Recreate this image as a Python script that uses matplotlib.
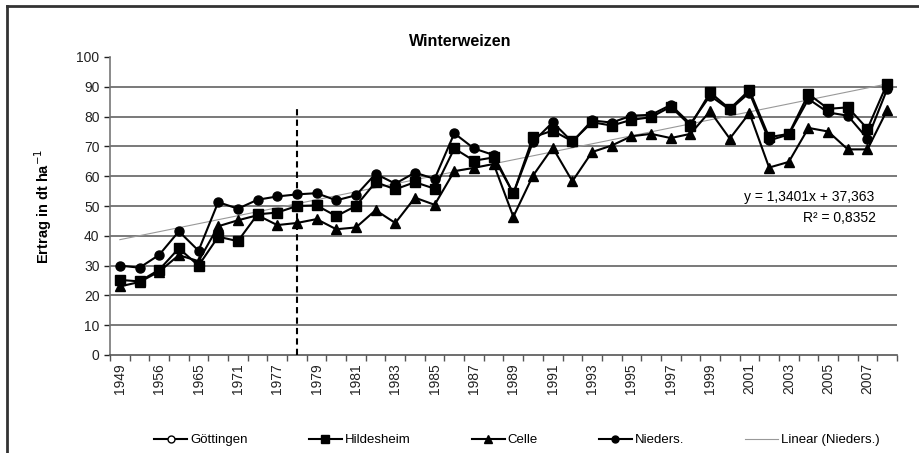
import numpy as np
import matplotlib
matplotlib.use("Agg")
import matplotlib.pyplot as plt
from matplotlib.lines import Line2D

plt.rcParams['font.family'] = ['Liberation Sans', 'DejaVu Sans']

years = ["1949", "1952", "1956", "1960", "1965", "1968", "1971", "1974", "1977", "1978"] + \
        [str(y) for y in range(1979, 2009)]
shown_labels = ["1949", "1956", "1965", "1971", "1977", "1979", "1981", "1983", "1985", "1987",
                "1989", "1991", "1993", "1995", "1997", "1999", "2001", "2003", "2005", "2007"]

goettingen = [np.nan] * 40
hildesheim = [25.2, 24.7, 28.6, 35.8, 30.0, 39.7, 38.2, 47.2, 47.8, 50.0,
              50.2, 46.6, 50.0, 58.0, 55.6, 58.0, 55.8, 69.3, 65.2, 66.3,
              54.2, 73.1, 75.3, 71.7, 78.1, 77.0, 78.9, 79.8, 83.3, 77.0,
              88.1, 82.6, 88.9, 73.1, 74.2, 87.6, 82.6, 83.1, 75.9, 91.1]
celle = [23.0, 24.5, 28.0, 33.5, 31.5, 43.2, 45.2, 46.9, 43.6, 44.3,
         45.6, 42.2, 42.8, 48.6, 44.3, 52.8, 50.4, 61.7, 62.8, 64.1,
         46.4, 60.2, 69.6, 58.3, 68.1, 70.3, 73.4, 74.2, 72.8, 74.2,
         81.8, 72.6, 81.2, 62.9, 64.8, 76.2, 75.0, 69.0, 69.0, 82.2]
nieders = [30.0, 29.3, 33.6, 41.5, 35.0, 51.3, 49.1, 52.1, 53.2, 53.9,
           54.3, 51.9, 53.6, 60.8, 57.5, 61.2, 59.1, 74.4, 69.3, 67.1,
           54.2, 71.5, 78.1, 71.5, 78.7, 78.0, 80.3, 80.6, 83.9, 77.6,
           87.0, 82.3, 88.0, 72.0, 74.0, 85.9, 81.4, 80.3, 72.6, 89.2]

trend_slope = 1.3401
trend_intercept = 37.363
marker_year = "1978"
marker_top = 84

W, H = 920, 453
fig = plt.figure(figsize=(W / 100, H / 100), dpi=100)
fig.patch.set_facecolor('white')

# outer frame (left and top visible)
fig.add_artist(Line2D([7 / W, 7 / W], [0, 1 - 6 / H], transform=fig.transFigure, color='#333333', lw=2))
fig.add_artist(Line2D([7 / W, 1], [1 - 6 / H, 1 - 6 / H], transform=fig.transFigure, color='#333333', lw=2))

ax = fig.add_axes([110 / W, (H - 355) / H, 787 / W, 298 / H])
x = np.arange(len(years))

for v in range(10, 100, 10):
    ax.axhline(v, color='#555555', lw=1.1, zorder=1)

xt = np.arange(1, len(years) + 1)
ax.plot(x, trend_slope * xt + trend_intercept, color='#999999', lw=0.8, zorder=2)

ax.plot(x, goettingen, color='black', lw=1.5, marker='o', ms=6, mfc='white', mec='black', zorder=3)
ax.plot(x, hildesheim, color='black', lw=1.5, marker='s', ms=7, mfc='black', mec='black', zorder=4)
ax.plot(x, celle, color='black', lw=1.5, marker='^', ms=7, mfc='black', mec='black', zorder=5)
ax.plot(x, nieders, color='black', lw=1.5, marker='o', ms=6.5, mfc='black', mec='black', zorder=6)

xi = years.index(marker_year)
ax.plot([xi, xi], [0, marker_top], color='black', lw=1.5, ls=(0, (3, 2)), zorder=7)

ax.set_xlim(-0.5, len(years) - 0.5)
ax.set_ylim(0, 100)
ax.set_yticks(range(0, 101, 10))
ax.tick_params(axis='y', length=4, direction='out', labelsize=10, colors='#222222', width=1)

ax.set_xticks(np.arange(-0.5, len(years), 1))
ax.set_xticklabels([])
ax.tick_params(axis='x', which='major', length=4, direction='out', width=1, color='#555555')
pos = [years.index(l) for l in shown_labels]
ax.set_xticks(pos, minor=True)
ax.set_xticklabels(shown_labels, minor=True, rotation=90, fontsize=10, color='#222222')
ax.tick_params(axis='x', which='minor', length=0, pad=6)

for s in ['top', 'right']:
    ax.spines[s].set_visible(False)
ax.spines['left'].set_color('#777777')
ax.spines['bottom'].set_color('#555555')
ax.spines['left'].set_linewidth(1.2)
ax.spines['bottom'].set_linewidth(1.2)

ax.set_ylabel('Ertrag in dt ha$^{-1}$', fontsize=10.5, fontweight='bold', labelpad=16)
fig.text(460 / W, 1 - 42 / H, 'Winterweizen', ha='center', va='center', fontsize=11.5, fontweight='bold')

fig.text(874 / W, 1 - 197 / H, 'y = 1,3401x + 37,363', ha='right', va='center', fontsize=10)
fig.text(840 / W, 1 - 218 / H, 'R² = 0,8352', ha='center', va='center', fontsize=10)

handles = [
    Line2D([], [], color='black', lw=1.5, marker='o', ms=5, mfc='white', mec='black'),
    Line2D([], [], color='black', lw=1.5, marker='s', ms=6, mfc='black'),
    Line2D([], [], color='black', lw=1.5, marker='^', ms=6, mfc='black'),
    Line2D([], [], color='black', lw=1.5, marker='o', ms=5, mfc='black'),
    Line2D([], [], color='#999999', lw=0.8),
]
labels = ['Göttingen', 'Hildesheim', 'Celle', 'Nieders.', 'Linear (Nieders.)']
fig.legend(handles, labels, loc='center', bbox_to_anchor=(517 / W, 1 - 440 / H), ncol=5,
           frameon=False, fontsize=9.5, handlelength=2.5, handletextpad=0.2, columnspacing=4.65)

fig.savefig('out.png', dpi=100)
